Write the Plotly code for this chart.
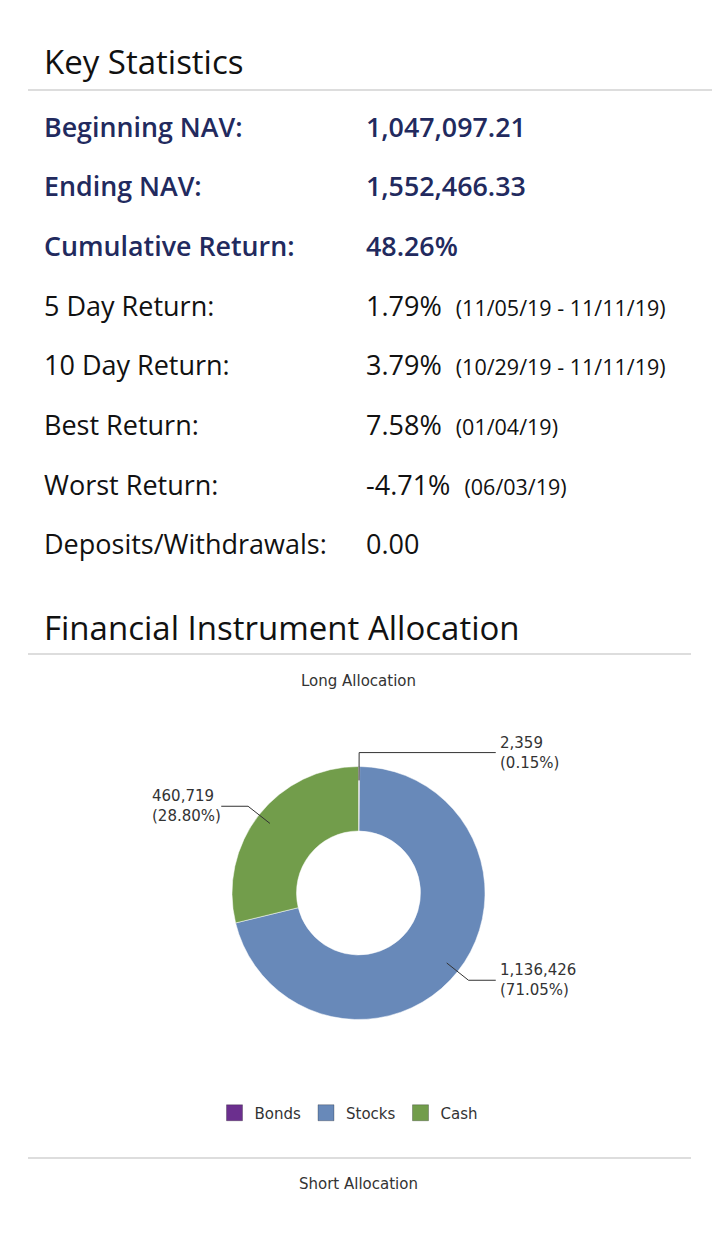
import math
import plotly.graph_objects as go

# key statistics table
stat_labels = ["Beginning NAV:", "Ending NAV:", "Cumulative Return:", "5 Day Return:",
               "10 Day Return:", "Best Return:", "Worst Return:", "Deposits/Withdrawals:"]
stat_values = ["1,047,097.21", "1,552,466.33", "48.26%", "1.79%",
               "3.79%", "7.58%", "-4.71%", "0.00"]
stat_notes = ["", "", "", "(11/05/19 - 11/11/19)", "(10/29/19 - 11/11/19)",
              "(01/04/19)", "(06/03/19)", ""]
stat_bold = [True, True, True, False, False, False, False, False]

# long allocation
alloc_labels = ["Bonds", "Stocks", "Cash"]
alloc_values = [2359, 1136426, 460719]
alloc_colors = ["#6b2f8e", "#6889b9", "#729d4b"]

# page has an 8px body margin, so the figure is a bit smaller and
# all positions below are given in page pixels
OFF = 8
W, H = 720 - OFF, 1251 - OFF
NAVY = "#222a5e"
STAT_FONT = "Open Sans"
CHART_FONT = "DejaVu Sans"


def px(x):
    return (x - OFF) / W


def py(y):
    return 1 - (y - OFF) / H


def note(text, x, y, size, color, family, xanchor="left", align="left", weight="normal"):
    return dict(x=px(x), y=py(y), xref="paper", yref="paper", text=text,
                showarrow=False, xanchor=xanchor, yanchor="middle", align=align,
                font=dict(family=family, size=size, color=color, weight=weight))


fig = go.Figure()
annotations = []
shapes = []

# section headers + dividers
for text, y in [("Key Statistics", 62), ("Financial Instrument Allocation", 627)]:
    annotations.append(note(text, 42, y, 33, "#111111", STAT_FONT))
for y, x1 in [(90, 720), (654, 691), (1158, 691)]:
    shapes.append(dict(type="line", xref="paper", yref="paper",
                       x0=px(28), x1=px(x1), y0=py(y), y1=py(y),
                       line=dict(color="#dddddd", width=2)))

# stat rows
for i, (lab, val, sub, bold) in enumerate(zip(stat_labels, stat_values, stat_notes, stat_bold)):
    y = 126 + i * 59.7
    color = NAVY if bold else "#111111"
    size = 26.8 if bold else 27
    weight = 600 if bold else "normal"
    if sub:
        val += "&nbsp;&nbsp;<span style='font-size:21.5px'>" + sub + "</span>"
    annotations.append(note(lab, 42, y, size, color, STAT_FONT, weight=weight))
    annotations.append(note(val, 364, y, size, color, STAT_FONT, weight=weight))

# donut geometry (page px)
cx, cy, R = 358.5, 893, 126.5

fig.add_trace(go.Pie(
    labels=alloc_labels, values=alloc_values, hole=0.49,
    sort=False, direction="clockwise", rotation=0,
    marker=dict(colors=alloc_colors, line=dict(color="rgba(255,255,255,0.5)", width=1)),
    textinfo="none", showlegend=False, hoverinfo="label+value+percent",
    domain=dict(x=[px(cx - R), px(cx + R)], y=[py(cy + R), py(cy - R)]),
))

# leader lines + labels
total = sum(alloc_values)
cum = 0
for lab, v in zip(alloc_labels, alloc_values):
    mid = (cum + v / 2) / total
    cum += v
    th = 2 * math.pi * mid
    s, c = math.sin(th), math.cos(th)
    x0, y0 = cx + 0.89 * R * s, cy - 0.89 * R * c
    x1, y1 = cx + 1.11 * R * s, cy - 1.11 * R * c
    right = s >= 0
    x2 = cx + 1.085 * R if right else cx - 1.085 * R
    path = f"M{px(x0)},{py(y0)} L{px(x1)},{py(y1)} L{px(x2)},{py(y1)}"
    shapes.append(dict(type="path", xref="paper", yref="paper", path=path,
                       line=dict(color="#333333", width=1)))
    annotations.append(note(f"{v:,}<br>({v / total * 100:.2f}%)",
                            x2 + 2 if right else x2 + 2, y1, 15, "#333333", CHART_FONT,
                            xanchor="left" if right else "right"))

# legend entries
for lab, col in zip(alloc_labels, alloc_colors):
    fig.add_trace(go.Scatter(
        x=[None], y=[None], mode="markers", name=lab,
        marker=dict(symbol="square", size=18, color=col,
                    line=dict(color="rgba(0,0,0,0.25)", width=1))))

for text, y in [("Long Allocation", 681), ("Short Allocation", 1184)]:
    annotations.append(note(text, 358, y, 15, "#333333", CHART_FONT, xanchor="center"))

fig.update_layout(
    width=W, height=H,
    margin=dict(l=0, r=0, t=0, b=0),
    paper_bgcolor="white", plot_bgcolor="white",
    xaxis=dict(visible=False), yaxis=dict(visible=False),
    annotations=annotations, shapes=shapes,
    showlegend=True,
    legend=dict(orientation="h", x=px(349), xanchor="center", y=py(1113), yanchor="middle",
                font=dict(family=CHART_FONT, size=15, color="#333333"),
                itemsizing="trace", itemclick=False, itemdoubleclick=False),
)

fig.write_html("out.html")
